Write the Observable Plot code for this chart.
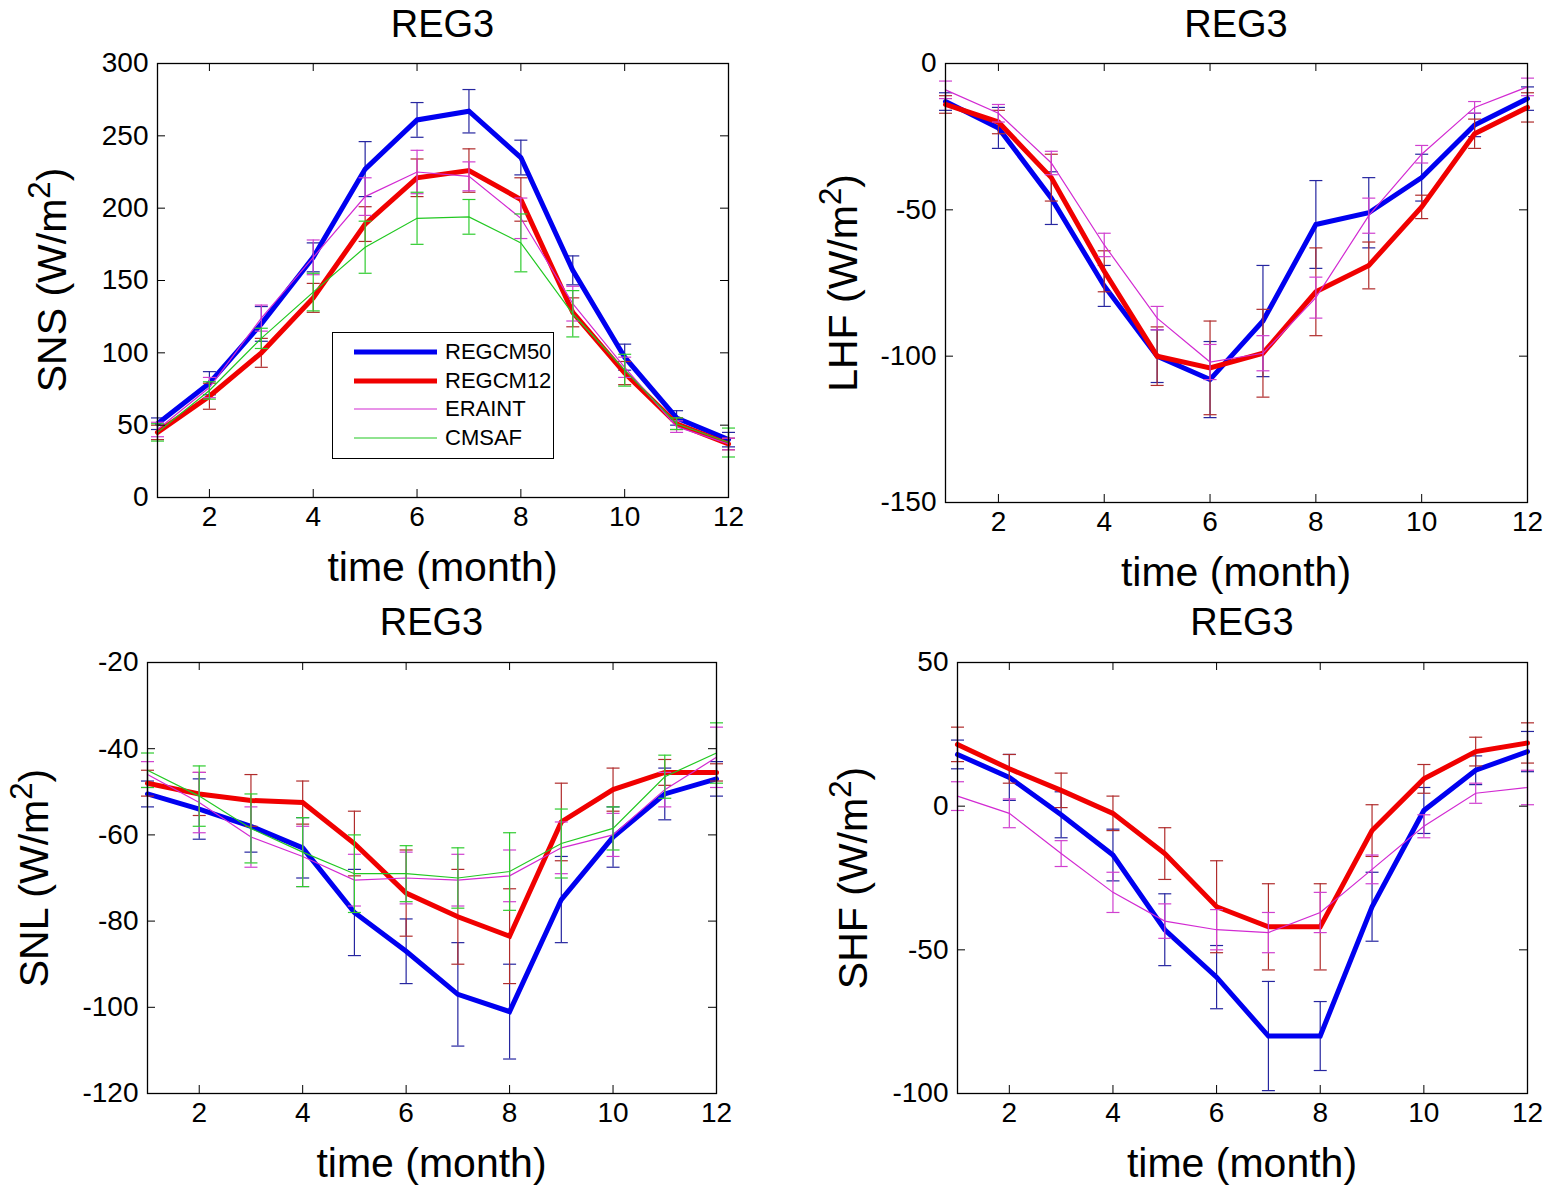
<!DOCTYPE html>
<html><head><meta charset="utf-8">
<script src="https://cdn.jsdelivr.net/npm/d3@7"></script>
<script src="https://cdn.jsdelivr.net/npm/@observablehq/plot@0.6"></script>
<style>
body{margin:0;background:#fff;}
#root{position:relative;width:1548px;height:1188px;overflow:hidden;background:#fff;font-family:"Liberation Sans",Arial,Helvetica,sans-serif;color:#000;}
.abs{position:absolute;white-space:nowrap;}
</style></head><body><div id="root"></div>
<script>
// ---------- data ----------
const months = [1,2,3,4,5,6,7,8,9,10,11,12];
const xTicks = [2,4,6,8,10,12];
const seriesNames = ["REGCM50","REGCM12","ERAINT","CMSAF"];

// SNS panel
const snsTicks = [0,50,100,150,200,250,300];
const snsREGCM50 = [51,79,120,166,227,261,267,235,157,97,55,40];
const snsREGCM50Err = [4,8,12,10,19,12,15,12,10,9,5,5];
const snsREGCM12 = [45,70,100,138,189,221,226,206,128,86,51,37];
const snsREGCM12Err = [5,9,10,10,12,13,15,15,10,8,4,4];
const snsERAINT = [47,76,124,166,208,225,222,193,134,90,49,37];
const snsERAINTErr = [5,7,9,12,13,15,10,14,12,7,4,4];
const snsCMSAF = [45,74,110,142,173,193,194,176,127,88,51,38];
const snsCMSAFErr = [6,6,7,13,18,18,12,20,16,11,4,10];

// LHF panel
const lhfTicks = [-150,-100,-50,0];
const lhfREGCM50 = [-13,-22,-46,-76,-100,-108,-88,-55,-51,-39,-21,-12];
const lhfREGCM50Err = [3,7,9,7,9,13,19,15,12,8,4,4];
const lhfREGCM12 = [-14,-20,-39,-71,-100,-104,-99,-78,-69,-49,-24,-15];
const lhfREGCM12Err = [3,4,8,7,10,16,15,15,8,4,5,5];
const lhfERAINT = [-9,-17,-34,-62,-87,-102,-99,-80,-52,-31,-15,-8];
const lhfERAINTErr = [3,3,4,4,4,6,6,7,6,3,2,3];

// SNL panel
const snlTicks = [-120,-100,-80,-60,-40,-20];
const snlREGCM50 = [-50.5,-54,-58,-63,-78,-87,-97,-101,-75,-60.5,-50.5,-47];
const snlREGCM50Err = [3,7,6,7,10,7.5,12,11,10,7,6,4];
const snlREGCM12 = [-48,-50.5,-52,-52.5,-62,-73.5,-79,-83.5,-57,-49.5,-45.5,-45.5];
const snlREGCM12Err = [3,5,6,5,7.5,10,11,11,9,5,3,2];
const snlERAINT = [-46,-52.5,-60.5,-65,-70.5,-70,-70.5,-69.5,-63,-60,-49.5,-42];
const snlERAINTErr = [3,7,7,7,6,6,6,6,6,5,4,7];
const snlCMSAF = [-45,-51,-58.5,-64,-69,-69,-70,-68.5,-62,-58.5,-46.5,-41];
const snlCMSAFErr = [4,7,8,8,9,6.5,7,9,8,5,5,7];

// SHF panel
const shfTicks = [-100,-50,0,50];
const shfREGCM50 = [18,10,-3,-17,-43,-59.5,-80,-80,-35,-1.5,12.5,19];
const shfREGCM50Err = [5,8,8,9,12.5,11,19,12,12,8,5,7];
const shfREGCM12 = [21.5,13,5.5,-2.5,-16.5,-35,-42,-42,-8.5,9.5,19,22];
const shfREGCM12Err = [6,5,6,6,9,16,15,15,9,5,5,7];
const shfERAINT = [3.5,-2.5,-16.5,-30,-40,-43,-44,-37,-22,-7,4.5,6.5];
const shfERAINTErr = [5,5,4.5,7,6,7,7,7,5,4,3.5,6];

// ---------- styles ----------
const style = {
  REGCM50: {color:"#0000f0", bar:"#2626a0", width:5},
  REGCM12: {color:"#f00000", bar:"#b02c2c", width:5},
  ERAINT:  {color:"#d22ad2", bar:"#d040d0", width:1.2},
  CMSAF:   {color:"#22c822", bar:"#30cc30", width:1.2}
};
const FONT = '"Liberation Sans", Arial, Helvetica, sans-serif';
const root = document.getElementById("root");

// horizontal cap symbol for error bars
const hline = {draw(ctx, size){const r=Math.sqrt(size/Math.PI);ctx.moveTo(-r,0);ctx.lineTo(r,0);}};

function addDiv(html, css){
  const d=document.createElement("div");d.className="abs";d.innerHTML=html;
  Object.assign(d.style,css);root.appendChild(d);return d;
}

function panel(p){
  const ML=115, MR=32, MT=12, MB=50;
  const fw=p.x2-p.x1, fh=p.y2-p.y1;
  const W=fw+ML+MR, H=fh+MT+MB;
  const marks=[];
  for(const s of p.series){
    const st=style[s.name];
    const rows=months.map((m,i)=>({m, v:s.values[i], lo:s.values[i]-s.err[i], hi:s.values[i]+s.err[i]}));
    marks.push(Plot.ruleX(rows,{x:"m",y1:"lo",y2:"hi",stroke:st.bar,strokeWidth:1.2}));
    marks.push(Plot.dot(rows,{x:"m",y:"lo",symbol:hline,r:6.5,stroke:st.bar,fill:"none",strokeWidth:1.2}));
    marks.push(Plot.dot(rows,{x:"m",y:"hi",symbol:hline,r:6.5,stroke:st.bar,fill:"none",strokeWidth:1.2}));
    marks.push(Plot.line(rows,{x:"m",y:"v",stroke:st.color,strokeWidth:st.width,strokeLinejoin:"miter",strokeMiterlimit:4}));
  }
  // inward ticks on all four sides
  marks.push(Plot.ruleX(xTicks,{x:d=>d,insetTop:fh-8,stroke:"#000",strokeWidth:1}));
  marks.push(Plot.ruleX(xTicks,{x:d=>d,insetBottom:fh-8,stroke:"#000",strokeWidth:1}));
  marks.push(Plot.ruleY(p.ticks,{y:d=>d,insetRight:fw-8,stroke:"#000",strokeWidth:1}));
  marks.push(Plot.ruleY(p.ticks,{y:d=>d,insetLeft:fw-8,stroke:"#000",strokeWidth:1}));
  marks.push(Plot.frame({stroke:"#000",strokeWidth:1.3}));
  marks.push(Plot.axisX({ticks:xTicks,tickSize:0,tickPadding:9,tickFormat:d=>String(d),label:null,fontSize:28}));
  marks.push(Plot.axisY({ticks:p.ticks,tickSize:0,tickPadding:9,tickFormat:d=>String(d),label:null,fontSize:28}));
  const svg=Plot.plot({
    width:W, height:H,
    marginLeft:ML, marginRight:MR, marginTop:MT, marginBottom:MB,
    x:{domain:[1,12]}, y:{domain:p.domain},
    style:{fontFamily:FONT,fontSize:"28px",background:"transparent",overflow:"visible",color:"#000",maxWidth:"none"},
    marks
  });
  svg.style.maxWidth="none";
  svg.style.width=W+"px";svg.style.height=H+"px";
  const wrap=document.createElement("div");
  Object.assign(wrap.style,{position:"absolute",left:(p.x1-ML)+"px",top:(p.y1-MT)+"px",width:W+"px",height:H+"px"});
  wrap.appendChild(svg);root.appendChild(wrap);

  const cx=(p.x1+p.x2)/2, cy=(p.y1+p.y2)/2;
  // title
  addDiv("REG3",{fontSize:"38px",lineHeight:"38px",left:cx+"px",top:(p.titleBase-0.8465*38)+"px",transform:"translateX(-50%)"});
  // x label
  addDiv("time (month)",{fontSize:"41px",lineHeight:"41px",left:cx+"px",top:(p.y2+85-0.8465*41)+"px",transform:"translateX(-50%)"});
  // y label
  addDiv(p.ylab+' (W/m<span style="font-size:0.76em;vertical-align:0.5em;line-height:0">2</span>)',
    {fontSize:"41px",lineHeight:"41px",left:(p.ylabBase-0.3465*41)+"px",top:cy+"px",transform:"translate(-50%,-50%) rotate(-90deg)"});
}

panel({x1:157,x2:728,y1:63,y2:497,domain:[0,300],ticks:snsTicks,titleBase:37,ylab:"SNS",ylabBase:66,
  series:[{name:"REGCM50",values:snsREGCM50,err:snsREGCM50Err},{name:"REGCM12",values:snsREGCM12,err:snsREGCM12Err},
          {name:"ERAINT",values:snsERAINT,err:snsERAINTErr},{name:"CMSAF",values:snsCMSAF,err:snsCMSAFErr}]});
panel({x1:945,x2:1527,y1:63,y2:502,domain:[-150,0],ticks:lhfTicks,titleBase:37,ylab:"LHF",ylabBase:857,
  series:[{name:"REGCM50",values:lhfREGCM50,err:lhfREGCM50Err},{name:"REGCM12",values:lhfREGCM12,err:lhfREGCM12Err},
          {name:"ERAINT",values:lhfERAINT,err:lhfERAINTErr}]});
panel({x1:147,x2:716,y1:662,y2:1093,domain:[-120,-20],ticks:snlTicks,titleBase:635,ylab:"SNL",ylabBase:48,
  series:[{name:"REGCM50",values:snlREGCM50,err:snlREGCM50Err},{name:"REGCM12",values:snlREGCM12,err:snlREGCM12Err},
          {name:"ERAINT",values:snlERAINT,err:snlERAINTErr},{name:"CMSAF",values:snlCMSAF,err:snlCMSAFErr}]});
panel({x1:957,x2:1527,y1:662,y2:1093,domain:[-100,50],ticks:shfTicks,titleBase:635,ylab:"SHF",ylabBase:867,
  series:[{name:"REGCM50",values:shfREGCM50,err:shfREGCM50Err},{name:"REGCM12",values:shfREGCM12,err:shfREGCM12Err},
          {name:"ERAINT",values:shfERAINT,err:shfERAINTErr}]});

// legend (top-left panel)
const lg=addDiv("",{left:"332px",top:"332px",width:"220px",height:"125px",border:"1px solid #000",background:"#fff"});
const rowY=[19,47.5,76,104.5];
seriesNames.forEach((n,i)=>{
  const st=style[n];
  const ns="http://www.w3.org/2000/svg";
  const s=document.createElementNS(ns,"svg");
  s.setAttribute("width","90");s.setAttribute("height","10");
  s.style.position="absolute";s.style.left="20px";s.style.top=(rowY[i]-5)+"px";
  const l=document.createElementNS(ns,"line");
  l.setAttribute("x1","1");l.setAttribute("x2","84");l.setAttribute("y1","5");l.setAttribute("y2","5");
  l.setAttribute("stroke",st.color);l.setAttribute("stroke-width",st.width);
  s.appendChild(l);lg.appendChild(s);
  const t=document.createElement("div");t.className="abs";t.textContent=n;
  Object.assign(t.style,{left:"112px",top:(rowY[i]-10.7)+"px",fontSize:"22px",lineHeight:"22px"});
  lg.appendChild(t);
});
</script></body></html>
